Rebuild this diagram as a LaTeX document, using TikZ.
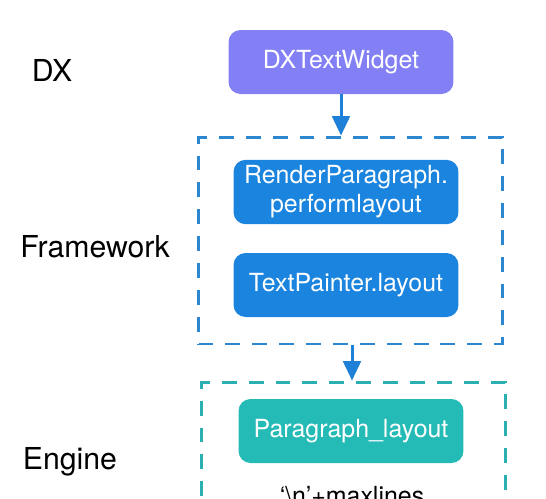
\documentclass[tikz,border=0pt]{standalone}
\usepackage{fontspec}
\setmainfont{TeX Gyre Heros}
\usetikzlibrary{arrows.meta}
\definecolor{dxpurple}{RGB}{131,128,245}
\definecolor{fwblue}{RGB}{26,132,222}
\definecolor{fwdash}{RGB}{44,134,208}
\definecolor{engteal}{RGB}{36,186,182}
\definecolor{engdash}{RGB}{42,176,178}
\definecolor{arrblue}{RGB}{30,128,214}
\begin{document}
\begin{tikzpicture}[x=0.02cm,y=-0.02cm,
  layer/.style={font=\fontsize{17.2}{20}\selectfont},
  block/.style={rounded corners=0.24cm,text=white,align=center,minimum width=4.5cm,minimum height=1.28cm,
    font=\fontsize{14.2}{16.5}\selectfont},
  region/.style={draw,line width=1.7pt,dash pattern=on 8.5pt off 6.8pt,minimum width=6.08cm},
  flow/.style={arrblue,line width=1.7pt,-{Triangle[length=11pt,width=10pt]}}]
 \useasboundingbox (0,0) rectangle (546,498);
 \clip (0,0) rectangle (546,498);
 \node[layer] (dx) at (52,70) {DX};
 \node[layer] (fwlabel) at (95,247) {Framework};
 \node[layer] (englabel) at (70,462) {Engine};
 \node[region,fwdash,minimum height=4.14cm] (fw) at (350.5,240.5) {};
 \node[region,engdash,minimum height=3.6cm] (eng) at (353.5,472) {};
 \node[block,fill=dxpurple] (widget) at (341,62) {DXTextWidget};
 \node[block,fill=fwblue] (render) at (346,192) {RenderParagraph.\\performlayout};
 \node[block,fill=fwblue] (painter) at (346,285) {TextPainter.layout};
 \node[block,fill=engteal] (parlayout) at (351,431) {Paragraph\_layout};
 \node[anchor=north,font=\fontsize{14.2}{16.5}\selectfont] (maxlines) at (352,480) {‘\textbackslash n’+maxlines};
 \draw[flow] (widget.south) -- (widget.south |- fw.north);
 \draw[flow] (fw.south) ++(1.5,0) coordinate (fwout) -- (fwout |- eng.north);
\end{tikzpicture}
\end{document}
